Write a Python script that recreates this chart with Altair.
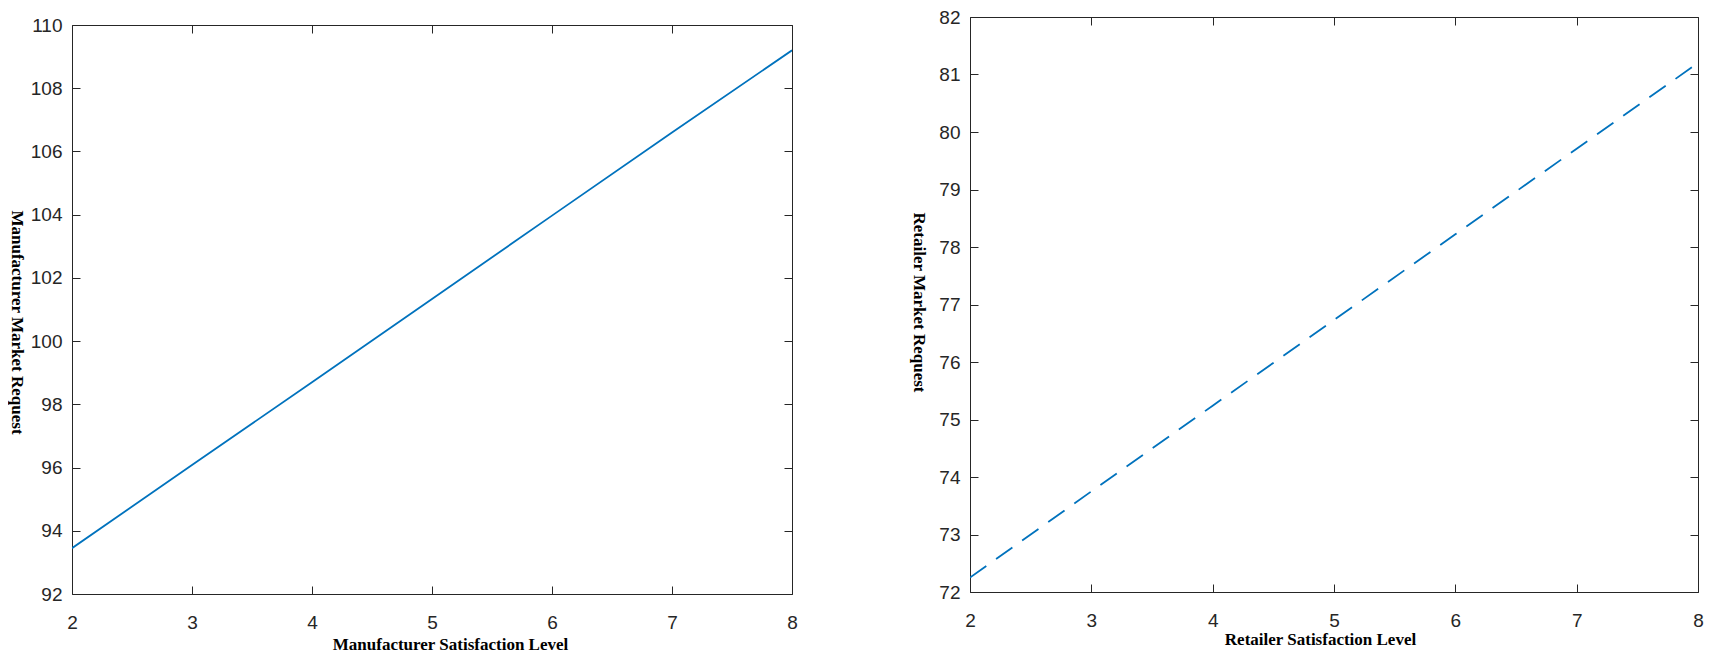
import altair as alt
import pandas as pd

# Data
x_levels = [2, 3, 4, 5, 6, 7, 8]
manufacturer_request = [93.45, 96.08, 98.7, 101.33, 103.97, 106.6, 109.2]
retailer_request = [72.25, 73.75, 75.24, 76.73, 78.22, 79.71, 81.2]

x_ticks = [2, 3, 4, 5, 6, 7, 8]
left_y_ticks = [92, 94, 96, 98, 100, 102, 104, 106, 108, 110]
right_y_ticks = [72, 73, 74, 75, 76, 77, 78, 79, 80, 81, 82]

LINE_COLOR = "#0072BD"
AX_COLOR = "#262626"
LABEL_FONT = "Liberation Sans"
TITLE_FONT = "Liberation Serif"


def panel(values, ydomain, yticks, w, h, inset, xtitle, ytitle, dash, xt_pos, yt_pos):
    """h is the framed plot height; inset is empty space above the frame."""
    H = h + inset
    df = pd.DataFrame({"x": x_levels, "y": values})
    base = alt.Chart(df)
    xscale = alt.Scale(domain=[2, 8], nice=False, zero=False)
    yscale = alt.Scale(domain=ydomain, nice=False, zero=False, range=[H, inset])

    mark_kw = dict(color=LINE_COLOR, strokeWidth=1.8, clip=True)
    if dash:
        mark_kw["strokeDash"] = dash

    dom = dict(domain=True, domainColor=AX_COLOR, domainWidth=1)
    nodom = dict(domain=False)

    main = base.mark_line(**mark_kw).encode(
        x=alt.X("x:Q", scale=xscale, axis=alt.Axis(
            orient="bottom", values=x_ticks, ticks=False, tickSize=0, grid=False, **dom,
            labelFont=LABEL_FONT, labelFontSize=19, labelColor=AX_COLOR, labelPadding=19,
            labelFlush=False,
            title=xtitle, titleFont=TITLE_FONT, titleFontWeight="bold", titleFontSize=17,
            titleColor="#000000", titleX=xt_pos[0], titleY=xt_pos[1],
            titleBaseline="middle", titleAlign="center")),
        y=alt.Y("y:Q", scale=yscale, axis=alt.Axis(
            orient="left", values=yticks, ticks=False, tickSize=0, grid=False, **dom,
            labelFont=LABEL_FONT, labelFontSize=19, labelColor=AX_COLOR, labelPadding=10,
            labelFlush=False,
            title=ytitle, titleFont=TITLE_FONT, titleFontWeight="bold", titleFontSize=17,
            titleColor="#000000", titleAngle=90, titleX=yt_pos[0], titleY=yt_pos[1] + inset,
            titleBaseline="middle", titleAlign="center")),
    )

    tick_kw = dict(ticks=True, tickSize=8, tickColor=AX_COLOR, tickWidth=1,
                   labels=False, grid=False, title=None)

    # inward ticks on bottom and left
    ticks_bl = base.mark_line(opacity=0).encode(
        x=alt.X("x:Q", scale=xscale, axis=alt.Axis(orient="bottom", values=x_ticks,
                                                   offset=-8, **nodom, **tick_kw)),
        y=alt.Y("y:Q", scale=yscale, axis=alt.Axis(orient="left", values=yticks,
                                                   offset=-8, **nodom, **tick_kw)),
    )
    # frame lines on top and right
    frame_tr = base.mark_line(opacity=0).encode(
        x=alt.X("x:Q", scale=xscale, axis=alt.Axis(orient="top", values=x_ticks, ticks=False,
                                                   labels=False, grid=False, title=None,
                                                   offset=-inset, **dom)),
        y=alt.Y("y:Q", scale=yscale, axis=alt.Axis(orient="right", values=yticks, ticks=False,
                                                   labels=False, grid=False, title=None,
                                                   offset=0, **dom)),
    )
    # inward ticks on top and right
    ticks_tr = base.mark_line(opacity=0).encode(
        x=alt.X("x:Q", scale=xscale, axis=alt.Axis(orient="top", values=x_ticks,
                                                   offset=-(inset + 8), **nodom, **tick_kw)),
        y=alt.Y("y:Q", scale=yscale, axis=alt.Axis(orient="right", values=yticks,
                                                   offset=-8, **nodom, **tick_kw)),
    )

    return alt.layer(main, ticks_bl, frame_tr, ticks_tr).resolve_axis(
        x="independent", y="independent").properties(
        width=w, height=H, view=alt.ViewBackground(stroke=None))


left = panel(manufacturer_request, [92, 110], left_y_ticks, 720, 569, 8,
             "Manufacturer Satisfaction Level", "Manufacturer Market Request",
             None, (378, 50), (-56, 297))
right = panel(retailer_request, [72, 82], right_y_ticks, 728, 575, 0,
              "Retailer Satisfaction Level", "Retailer Market Request",
              [20, 12], (350, 47), (-52, 285))

chart = alt.hconcat(left, right, spacing=112).properties(
    padding=0, background="white"
).configure_view(stroke=None)

chart.save("out.html", embed_options={"renderer": "svg", "actions": False})
